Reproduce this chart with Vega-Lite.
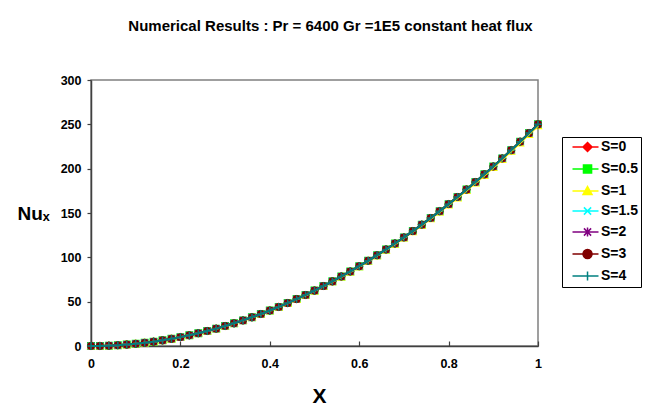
{
  "$schema": "https://vega.github.io/schema/vega-lite/v6.json",
  "autosize": {"type": "none"},
  "padding": {"left": 91, "top": 80, "right": 121, "bottom": 70},
  "width": 447,
  "height": 266,
  "background": "white",
  "title": {
    "text": "Numerical Results : Pr = 6400  Gr =1E5 constant heat flux",
    "font": "Liberation Sans",
    "fontSize": 15,
    "fontWeight": "bold",
    "color": "black",
    "anchor": "middle",
    "frame": "group",
    "baseline": "alphabetic",
    "dx": 16,
    "offset": 28
  },
  "data": {
    "values": [
      {"X":0,"S":"S=0","Nu":0},{"X":0.02,"S":"S=0","Nu":0.1},{"X":0.04,"S":"S=0","Nu":0.4},{"X":0.06,"S":"S=0","Nu":0.9},{"X":0.08,"S":"S=0","Nu":1.6},{"X":0.1,"S":"S=0","Nu":2.5},{"X":0.12,"S":"S=0","Nu":3.6},{"X":0.14,"S":"S=0","Nu":4.9},{"X":0.16,"S":"S=0","Nu":6.4},{"X":0.18,"S":"S=0","Nu":8.1},{"X":0.2,"S":"S=0","Nu":10},{"X":0.22,"S":"S=0","Nu":12.1},{"X":0.24,"S":"S=0","Nu":14.4},{"X":0.26,"S":"S=0","Nu":16.9},{"X":0.28,"S":"S=0","Nu":19.6},{"X":0.3,"S":"S=0","Nu":22.5},{"X":0.32,"S":"S=0","Nu":25.6},{"X":0.34,"S":"S=0","Nu":28.9},{"X":0.36,"S":"S=0","Nu":32.4},{"X":0.38,"S":"S=0","Nu":36.1},{"X":0.4,"S":"S=0","Nu":40},{"X":0.42,"S":"S=0","Nu":44.1},{"X":0.44,"S":"S=0","Nu":48.4},{"X":0.46,"S":"S=0","Nu":52.9},{"X":0.48,"S":"S=0","Nu":57.6},{"X":0.5,"S":"S=0","Nu":62.5},{"X":0.52,"S":"S=0","Nu":67.6},{"X":0.54,"S":"S=0","Nu":72.9},{"X":0.56,"S":"S=0","Nu":78.4},{"X":0.58,"S":"S=0","Nu":84.1},{"X":0.6,"S":"S=0","Nu":90},{"X":0.62,"S":"S=0","Nu":96.1},{"X":0.64,"S":"S=0","Nu":102.4},{"X":0.66,"S":"S=0","Nu":108.9},{"X":0.68,"S":"S=0","Nu":115.6},{"X":0.7,"S":"S=0","Nu":122.5},{"X":0.72,"S":"S=0","Nu":129.6},{"X":0.74,"S":"S=0","Nu":136.9},{"X":0.76,"S":"S=0","Nu":144.4},{"X":0.78,"S":"S=0","Nu":152.1},{"X":0.8,"S":"S=0","Nu":160},{"X":0.82,"S":"S=0","Nu":168.1},{"X":0.84,"S":"S=0","Nu":176.4},{"X":0.86,"S":"S=0","Nu":184.9},{"X":0.88,"S":"S=0","Nu":193.6},{"X":0.9,"S":"S=0","Nu":202.5},{"X":0.92,"S":"S=0","Nu":211.6},{"X":0.94,"S":"S=0","Nu":220.9},{"X":0.96,"S":"S=0","Nu":230.4},{"X":0.98,"S":"S=0","Nu":240.1},{"X":1,"S":"S=0","Nu":250},
      {"X":0,"S":"S=0.5","Nu":0},{"X":0.02,"S":"S=0.5","Nu":0.1},{"X":0.04,"S":"S=0.5","Nu":0.4},{"X":0.06,"S":"S=0.5","Nu":0.9},{"X":0.08,"S":"S=0.5","Nu":1.6},{"X":0.1,"S":"S=0.5","Nu":2.5},{"X":0.12,"S":"S=0.5","Nu":3.6},{"X":0.14,"S":"S=0.5","Nu":4.9},{"X":0.16,"S":"S=0.5","Nu":6.4},{"X":0.18,"S":"S=0.5","Nu":8.1},{"X":0.2,"S":"S=0.5","Nu":10},{"X":0.22,"S":"S=0.5","Nu":12.1},{"X":0.24,"S":"S=0.5","Nu":14.4},{"X":0.26,"S":"S=0.5","Nu":16.9},{"X":0.28,"S":"S=0.5","Nu":19.6},{"X":0.3,"S":"S=0.5","Nu":22.5},{"X":0.32,"S":"S=0.5","Nu":25.6},{"X":0.34,"S":"S=0.5","Nu":28.9},{"X":0.36,"S":"S=0.5","Nu":32.4},{"X":0.38,"S":"S=0.5","Nu":36.1},{"X":0.4,"S":"S=0.5","Nu":40},{"X":0.42,"S":"S=0.5","Nu":44.1},{"X":0.44,"S":"S=0.5","Nu":48.4},{"X":0.46,"S":"S=0.5","Nu":52.9},{"X":0.48,"S":"S=0.5","Nu":57.6},{"X":0.5,"S":"S=0.5","Nu":62.5},{"X":0.52,"S":"S=0.5","Nu":67.6},{"X":0.54,"S":"S=0.5","Nu":72.9},{"X":0.56,"S":"S=0.5","Nu":78.4},{"X":0.58,"S":"S=0.5","Nu":84.1},{"X":0.6,"S":"S=0.5","Nu":90},{"X":0.62,"S":"S=0.5","Nu":96.1},{"X":0.64,"S":"S=0.5","Nu":102.4},{"X":0.66,"S":"S=0.5","Nu":108.9},{"X":0.68,"S":"S=0.5","Nu":115.6},{"X":0.7,"S":"S=0.5","Nu":122.5},{"X":0.72,"S":"S=0.5","Nu":129.6},{"X":0.74,"S":"S=0.5","Nu":136.9},{"X":0.76,"S":"S=0.5","Nu":144.4},{"X":0.78,"S":"S=0.5","Nu":152.1},{"X":0.8,"S":"S=0.5","Nu":160},{"X":0.82,"S":"S=0.5","Nu":168.1},{"X":0.84,"S":"S=0.5","Nu":176.4},{"X":0.86,"S":"S=0.5","Nu":184.9},{"X":0.88,"S":"S=0.5","Nu":193.6},{"X":0.9,"S":"S=0.5","Nu":202.5},{"X":0.92,"S":"S=0.5","Nu":211.6},{"X":0.94,"S":"S=0.5","Nu":220.9},{"X":0.96,"S":"S=0.5","Nu":230.4},{"X":0.98,"S":"S=0.5","Nu":240.1},{"X":1,"S":"S=0.5","Nu":250},
      {"X":0,"S":"S=1","Nu":0},{"X":0.02,"S":"S=1","Nu":0.1},{"X":0.04,"S":"S=1","Nu":0.4},{"X":0.06,"S":"S=1","Nu":0.89},{"X":0.08,"S":"S=1","Nu":1.59},{"X":0.1,"S":"S=1","Nu":2.49},{"X":0.12,"S":"S=1","Nu":3.58},{"X":0.14,"S":"S=1","Nu":4.87},{"X":0.16,"S":"S=1","Nu":6.36},{"X":0.18,"S":"S=1","Nu":8.05},{"X":0.2,"S":"S=1","Nu":9.94},{"X":0.22,"S":"S=1","Nu":12.03},{"X":0.24,"S":"S=1","Nu":14.31},{"X":0.26,"S":"S=1","Nu":16.8},{"X":0.28,"S":"S=1","Nu":19.48},{"X":0.3,"S":"S=1","Nu":22.37},{"X":0.32,"S":"S=1","Nu":25.45},{"X":0.34,"S":"S=1","Nu":28.73},{"X":0.36,"S":"S=1","Nu":32.21},{"X":0.38,"S":"S=1","Nu":35.88},{"X":0.4,"S":"S=1","Nu":39.76},{"X":0.42,"S":"S=1","Nu":43.84},{"X":0.44,"S":"S=1","Nu":48.11},{"X":0.46,"S":"S=1","Nu":52.58},{"X":0.48,"S":"S=1","Nu":57.25},{"X":0.5,"S":"S=1","Nu":62.13},{"X":0.52,"S":"S=1","Nu":67.19},{"X":0.54,"S":"S=1","Nu":72.46},{"X":0.56,"S":"S=1","Nu":77.93},{"X":0.58,"S":"S=1","Nu":83.6},{"X":0.6,"S":"S=1","Nu":89.46},{"X":0.62,"S":"S=1","Nu":95.52},{"X":0.64,"S":"S=1","Nu":101.79},{"X":0.66,"S":"S=1","Nu":108.25},{"X":0.68,"S":"S=1","Nu":114.9},{"X":0.7,"S":"S=1","Nu":121.77},{"X":0.72,"S":"S=1","Nu":128.82},{"X":0.74,"S":"S=1","Nu":136.08},{"X":0.76,"S":"S=1","Nu":143.53},{"X":0.78,"S":"S=1","Nu":151.19},{"X":0.8,"S":"S=1","Nu":159.04},{"X":0.82,"S":"S=1","Nu":167.09},{"X":0.84,"S":"S=1","Nu":175.34},{"X":0.86,"S":"S=1","Nu":183.79},{"X":0.88,"S":"S=1","Nu":192.44},{"X":0.9,"S":"S=1","Nu":201.29},{"X":0.92,"S":"S=1","Nu":210.33},{"X":0.94,"S":"S=1","Nu":219.57},{"X":0.96,"S":"S=1","Nu":229.02},{"X":0.98,"S":"S=1","Nu":238.66},{"X":1,"S":"S=1","Nu":248.5},
      {"X":0,"S":"S=1.5","Nu":0},{"X":0.02,"S":"S=1.5","Nu":0.1},{"X":0.04,"S":"S=1.5","Nu":0.4},{"X":0.06,"S":"S=1.5","Nu":0.9},{"X":0.08,"S":"S=1.5","Nu":1.6},{"X":0.1,"S":"S=1.5","Nu":2.5},{"X":0.12,"S":"S=1.5","Nu":3.6},{"X":0.14,"S":"S=1.5","Nu":4.9},{"X":0.16,"S":"S=1.5","Nu":6.4},{"X":0.18,"S":"S=1.5","Nu":8.1},{"X":0.2,"S":"S=1.5","Nu":10},{"X":0.22,"S":"S=1.5","Nu":12.1},{"X":0.24,"S":"S=1.5","Nu":14.4},{"X":0.26,"S":"S=1.5","Nu":16.9},{"X":0.28,"S":"S=1.5","Nu":19.6},{"X":0.3,"S":"S=1.5","Nu":22.5},{"X":0.32,"S":"S=1.5","Nu":25.6},{"X":0.34,"S":"S=1.5","Nu":28.9},{"X":0.36,"S":"S=1.5","Nu":32.4},{"X":0.38,"S":"S=1.5","Nu":36.1},{"X":0.4,"S":"S=1.5","Nu":40},{"X":0.42,"S":"S=1.5","Nu":44.1},{"X":0.44,"S":"S=1.5","Nu":48.4},{"X":0.46,"S":"S=1.5","Nu":52.9},{"X":0.48,"S":"S=1.5","Nu":57.6},{"X":0.5,"S":"S=1.5","Nu":62.5},{"X":0.52,"S":"S=1.5","Nu":67.6},{"X":0.54,"S":"S=1.5","Nu":72.9},{"X":0.56,"S":"S=1.5","Nu":78.4},{"X":0.58,"S":"S=1.5","Nu":84.1},{"X":0.6,"S":"S=1.5","Nu":90},{"X":0.62,"S":"S=1.5","Nu":96.1},{"X":0.64,"S":"S=1.5","Nu":102.4},{"X":0.66,"S":"S=1.5","Nu":108.9},{"X":0.68,"S":"S=1.5","Nu":115.6},{"X":0.7,"S":"S=1.5","Nu":122.5},{"X":0.72,"S":"S=1.5","Nu":129.6},{"X":0.74,"S":"S=1.5","Nu":136.9},{"X":0.76,"S":"S=1.5","Nu":144.4},{"X":0.78,"S":"S=1.5","Nu":152.1},{"X":0.8,"S":"S=1.5","Nu":160},{"X":0.82,"S":"S=1.5","Nu":168.1},{"X":0.84,"S":"S=1.5","Nu":176.4},{"X":0.86,"S":"S=1.5","Nu":184.9},{"X":0.88,"S":"S=1.5","Nu":193.6},{"X":0.9,"S":"S=1.5","Nu":202.5},{"X":0.92,"S":"S=1.5","Nu":211.6},{"X":0.94,"S":"S=1.5","Nu":220.9},{"X":0.96,"S":"S=1.5","Nu":230.4},{"X":0.98,"S":"S=1.5","Nu":240.1},{"X":1,"S":"S=1.5","Nu":250},
      {"X":0,"S":"S=2","Nu":0},{"X":0.02,"S":"S=2","Nu":0.1},{"X":0.04,"S":"S=2","Nu":0.4},{"X":0.06,"S":"S=2","Nu":0.9},{"X":0.08,"S":"S=2","Nu":1.6},{"X":0.1,"S":"S=2","Nu":2.5},{"X":0.12,"S":"S=2","Nu":3.6},{"X":0.14,"S":"S=2","Nu":4.9},{"X":0.16,"S":"S=2","Nu":6.4},{"X":0.18,"S":"S=2","Nu":8.1},{"X":0.2,"S":"S=2","Nu":10},{"X":0.22,"S":"S=2","Nu":12.1},{"X":0.24,"S":"S=2","Nu":14.4},{"X":0.26,"S":"S=2","Nu":16.9},{"X":0.28,"S":"S=2","Nu":19.6},{"X":0.3,"S":"S=2","Nu":22.5},{"X":0.32,"S":"S=2","Nu":25.6},{"X":0.34,"S":"S=2","Nu":28.9},{"X":0.36,"S":"S=2","Nu":32.4},{"X":0.38,"S":"S=2","Nu":36.1},{"X":0.4,"S":"S=2","Nu":40},{"X":0.42,"S":"S=2","Nu":44.1},{"X":0.44,"S":"S=2","Nu":48.4},{"X":0.46,"S":"S=2","Nu":52.9},{"X":0.48,"S":"S=2","Nu":57.6},{"X":0.5,"S":"S=2","Nu":62.5},{"X":0.52,"S":"S=2","Nu":67.6},{"X":0.54,"S":"S=2","Nu":72.9},{"X":0.56,"S":"S=2","Nu":78.4},{"X":0.58,"S":"S=2","Nu":84.1},{"X":0.6,"S":"S=2","Nu":90},{"X":0.62,"S":"S=2","Nu":96.1},{"X":0.64,"S":"S=2","Nu":102.4},{"X":0.66,"S":"S=2","Nu":108.9},{"X":0.68,"S":"S=2","Nu":115.6},{"X":0.7,"S":"S=2","Nu":122.5},{"X":0.72,"S":"S=2","Nu":129.6},{"X":0.74,"S":"S=2","Nu":136.9},{"X":0.76,"S":"S=2","Nu":144.4},{"X":0.78,"S":"S=2","Nu":152.1},{"X":0.8,"S":"S=2","Nu":160},{"X":0.82,"S":"S=2","Nu":168.1},{"X":0.84,"S":"S=2","Nu":176.4},{"X":0.86,"S":"S=2","Nu":184.9},{"X":0.88,"S":"S=2","Nu":193.6},{"X":0.9,"S":"S=2","Nu":202.5},{"X":0.92,"S":"S=2","Nu":211.6},{"X":0.94,"S":"S=2","Nu":220.9},{"X":0.96,"S":"S=2","Nu":230.4},{"X":0.98,"S":"S=2","Nu":240.1},{"X":1,"S":"S=2","Nu":250},
      {"X":0,"S":"S=3","Nu":0},{"X":0.02,"S":"S=3","Nu":0.1},{"X":0.04,"S":"S=3","Nu":0.4},{"X":0.06,"S":"S=3","Nu":0.9},{"X":0.08,"S":"S=3","Nu":1.6},{"X":0.1,"S":"S=3","Nu":2.5},{"X":0.12,"S":"S=3","Nu":3.6},{"X":0.14,"S":"S=3","Nu":4.9},{"X":0.16,"S":"S=3","Nu":6.4},{"X":0.18,"S":"S=3","Nu":8.1},{"X":0.2,"S":"S=3","Nu":10},{"X":0.22,"S":"S=3","Nu":12.1},{"X":0.24,"S":"S=3","Nu":14.4},{"X":0.26,"S":"S=3","Nu":16.9},{"X":0.28,"S":"S=3","Nu":19.6},{"X":0.3,"S":"S=3","Nu":22.5},{"X":0.32,"S":"S=3","Nu":25.6},{"X":0.34,"S":"S=3","Nu":28.9},{"X":0.36,"S":"S=3","Nu":32.4},{"X":0.38,"S":"S=3","Nu":36.1},{"X":0.4,"S":"S=3","Nu":40},{"X":0.42,"S":"S=3","Nu":44.1},{"X":0.44,"S":"S=3","Nu":48.4},{"X":0.46,"S":"S=3","Nu":52.9},{"X":0.48,"S":"S=3","Nu":57.6},{"X":0.5,"S":"S=3","Nu":62.5},{"X":0.52,"S":"S=3","Nu":67.6},{"X":0.54,"S":"S=3","Nu":72.9},{"X":0.56,"S":"S=3","Nu":78.4},{"X":0.58,"S":"S=3","Nu":84.1},{"X":0.6,"S":"S=3","Nu":90},{"X":0.62,"S":"S=3","Nu":96.1},{"X":0.64,"S":"S=3","Nu":102.4},{"X":0.66,"S":"S=3","Nu":108.9},{"X":0.68,"S":"S=3","Nu":115.6},{"X":0.7,"S":"S=3","Nu":122.5},{"X":0.72,"S":"S=3","Nu":129.6},{"X":0.74,"S":"S=3","Nu":136.9},{"X":0.76,"S":"S=3","Nu":144.4},{"X":0.78,"S":"S=3","Nu":152.1},{"X":0.8,"S":"S=3","Nu":160},{"X":0.82,"S":"S=3","Nu":168.1},{"X":0.84,"S":"S=3","Nu":176.4},{"X":0.86,"S":"S=3","Nu":184.9},{"X":0.88,"S":"S=3","Nu":193.6},{"X":0.9,"S":"S=3","Nu":202.5},{"X":0.92,"S":"S=3","Nu":211.6},{"X":0.94,"S":"S=3","Nu":220.9},{"X":0.96,"S":"S=3","Nu":230.4},{"X":0.98,"S":"S=3","Nu":240.1},{"X":1,"S":"S=3","Nu":250},
      {"X":0,"S":"S=4","Nu":0},{"X":0.02,"S":"S=4","Nu":0.1},{"X":0.04,"S":"S=4","Nu":0.4},{"X":0.06,"S":"S=4","Nu":0.9},{"X":0.08,"S":"S=4","Nu":1.6},{"X":0.1,"S":"S=4","Nu":2.5},{"X":0.12,"S":"S=4","Nu":3.6},{"X":0.14,"S":"S=4","Nu":4.9},{"X":0.16,"S":"S=4","Nu":6.4},{"X":0.18,"S":"S=4","Nu":8.1},{"X":0.2,"S":"S=4","Nu":10},{"X":0.22,"S":"S=4","Nu":12.1},{"X":0.24,"S":"S=4","Nu":14.4},{"X":0.26,"S":"S=4","Nu":16.9},{"X":0.28,"S":"S=4","Nu":19.6},{"X":0.3,"S":"S=4","Nu":22.5},{"X":0.32,"S":"S=4","Nu":25.6},{"X":0.34,"S":"S=4","Nu":28.9},{"X":0.36,"S":"S=4","Nu":32.4},{"X":0.38,"S":"S=4","Nu":36.1},{"X":0.4,"S":"S=4","Nu":40},{"X":0.42,"S":"S=4","Nu":44.1},{"X":0.44,"S":"S=4","Nu":48.4},{"X":0.46,"S":"S=4","Nu":52.9},{"X":0.48,"S":"S=4","Nu":57.6},{"X":0.5,"S":"S=4","Nu":62.5},{"X":0.52,"S":"S=4","Nu":67.6},{"X":0.54,"S":"S=4","Nu":72.9},{"X":0.56,"S":"S=4","Nu":78.4},{"X":0.58,"S":"S=4","Nu":84.1},{"X":0.6,"S":"S=4","Nu":90},{"X":0.62,"S":"S=4","Nu":96.1},{"X":0.64,"S":"S=4","Nu":102.4},{"X":0.66,"S":"S=4","Nu":108.9},{"X":0.68,"S":"S=4","Nu":115.6},{"X":0.7,"S":"S=4","Nu":122.5},{"X":0.72,"S":"S=4","Nu":129.6},{"X":0.74,"S":"S=4","Nu":136.9},{"X":0.76,"S":"S=4","Nu":144.4},{"X":0.78,"S":"S=4","Nu":152.1},{"X":0.8,"S":"S=4","Nu":160},{"X":0.82,"S":"S=4","Nu":168.1},{"X":0.84,"S":"S=4","Nu":176.4},{"X":0.86,"S":"S=4","Nu":184.9},{"X":0.88,"S":"S=4","Nu":193.6},{"X":0.9,"S":"S=4","Nu":202.5},{"X":0.92,"S":"S=4","Nu":211.6},{"X":0.94,"S":"S=4","Nu":220.9},{"X":0.96,"S":"S=4","Nu":230.4},{"X":0.98,"S":"S=4","Nu":240.1},{"X":1,"S":"S=4","Nu":250}
    ]
  },
  "encoding": {
    "x": {
      "field": "X", "type": "quantitative",
      "scale": {"domain": [0, 1], "nice": false},
      "axis": {
        "values": [0, 0.2, 0.4, 0.6, 0.8, 1], "format": "~g", "grid": false, "labelFlush": false,
        "tickSize": -5, "labelPadding": 16,
        "title": "X", "titleFontSize": 21, "titleX": 228, "titleY": 56, "titleBaseline": "alphabetic"
      }
    },
    "y": {
      "field": "Nu", "type": "quantitative",
      "scale": {"domain": [0, 300], "nice": false},
      "axis": {
        "values": [0, 50, 100, 150, 200, 250, 300], "grid": false, "labelFlush": false,
        "tickSize": 4, "labelPadding": 6,
        "title": "Nuₓ", "titleFontSize": 19, "titleAngle": 0, "titleX": -74, "titleY": 139,
        "titleAlign": "left", "titleBaseline": "alphabetic"
      }
    }
  },
  "layer": [
    {
      "mark": {"type": "point", "filled": false, "size": 42, "strokeWidth": 1.5, "opacity": 1},
      "encoding": {
        "color": {
          "field": "S", "type": "nominal",
          "scale": {"domain": ["S=0","S=0.5","S=1","S=1.5","S=2","S=3","S=4"], "range": ["#ff0000","#00ff00","#ffff00","#00ffff","#800080","#800000","#008080"]},
          "legend": null
        },
        "fill": {
          "field": "S", "type": "nominal",
          "scale": {"domain": ["S=0","S=0.5","S=1","S=1.5","S=2","S=3","S=4"], "range": ["#ff0000","#00ff00","#ffff00","#00ffff","#800080","#800000","#008080"]},
          "legend": null
        },
        "shape": {
          "field": "S", "type": "nominal",
          "scale": {"domain": ["S=0","S=0.5","S=1","S=1.5","S=2","S=3","S=4"], "range": ["diamond","square","triangle-up","M-1,-1L1,1M-1,1L1,-1","M-1,-1L1,1M-1,1L1,-1M0,-1.2V1.2","circle","M-1.2,0H1.2M0,-1.2V1.2"]},
          "legend": null
        }
      }
    },
    {
      "mark": {"type": "line", "strokeWidth": 2},
      "encoding": {
        "color": {
          "field": "S", "type": "nominal",
          "scale": {"domain": ["S=0","S=0.5","S=1","S=1.5","S=2","S=3","S=4"], "range": ["#ff0000","#00ff00","#ffff00","#00ffff","#800080","#800000","#008080"]},
          "legend": null
        }
      }
    },
    {
      "mark": {"type": "point", "filled": false, "size": 81, "strokeWidth": 1.5, "opacity": 0},
      "encoding": {
        "color": {
          "field": "S", "type": "nominal",
          "scale": {"domain": ["S=0","S=0.5","S=1","S=1.5","S=2","S=3","S=4"], "range": ["#ff0000","#00ff00","#ffff00","#00ffff","#800080","#800000","#008080"]},
          "legend": {"title": null, "orient": "none", "legendX": 471, "legendY": 57}
        },
        "fill": {
          "field": "S", "type": "nominal",
          "scale": {"domain": ["S=0","S=0.5","S=1","S=1.5","S=2","S=3","S=4"], "range": ["#ff0000","#00ff00","#ffff00","#00ffff","#800080","#800000","#008080"]},
          "legend": {"title": null, "orient": "none", "legendX": 471, "legendY": 57}
        },
        "shape": {
          "field": "S", "type": "nominal",
          "scale": {"domain": ["S=0","S=0.5","S=1","S=1.5","S=2","S=3","S=4"], "range": ["M0.11,0H5.89M3.45,-1L4.45,0L3.45,1L2.45,0Z","M0.11,0H5.89M2.55,-0.9H4.35V0.9H2.55Z","M0.11,0H5.89M3.45,-1L4.45,0.8H2.45Z","M0.11,0H5.89M2.65,-0.8L4.25,0.8M2.65,0.8L4.25,-0.8","M0.11,0H5.89M2.65,-0.8L4.25,0.8M2.65,0.8L4.25,-0.8M3.45,-1V1","M0.11,0H5.89M2.45,0A1,1 0 1,0 4.45,0A1,1 0 1,0 2.45,0Z","M0.11,0H5.89M3.45,-1V1"]},
          "legend": {"title": null, "orient": "none", "legendX": 471, "legendY": 57}
        }
      }
    }
  ],
  "resolve": {"scale": {"color": "independent", "fill": "independent", "shape": "independent"}},
  "config": {
    "view": {"stroke": "#808080", "strokeWidth": 1.5},
    "axis": {
      "domainColor": "#404040", "domainWidth": 1.5, "tickColor": "#404040", "tickWidth": 1.2,
      "labelFont": "Liberation Sans", "labelFontSize": 12.5, "labelFontWeight": "bold", "labelColor": "black",
      "titleFont": "Liberation Sans", "titleFontWeight": "bold", "titleColor": "black"
    },
    "legend": {
      "strokeColor": "#000000", "fillColor": "white", "padding": 3,
      "symbolSize": 81, "symbolOpacity": 1, "symbolStrokeWidth": 1.5, "labelOffset": 22, "rowPadding": 6,
      "labelFont": "Liberation Sans", "labelFontSize": 14, "labelFontWeight": "bold", "labelColor": "black"
    }
  }
}
